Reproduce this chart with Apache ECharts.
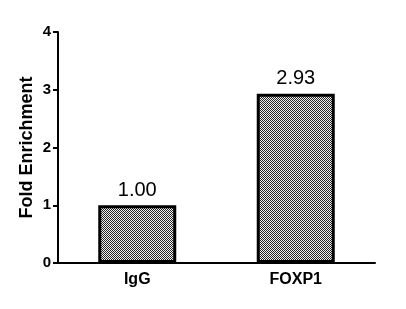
<!DOCTYPE html>
<html><head><meta charset="utf-8">
<script src="https://cdn.jsdelivr.net/npm/echarts@6/dist/echarts.min.js"></script>
<style>html,body{margin:0;padding:0;background:#fff}#c{width:406px;height:309px}</style>
</head><body><div id="c"></div>
<script>
const categories = ['IgG', 'FOXP1'];
const values = [1.00, 2.93];
const valueLabels = ['1.00', '2.93'];
const yTicks = [0, 1, 2, 3, 4];

const pc = document.createElement('canvas');
pc.width = 2; pc.height = 2;
const g = pc.getContext('2d');
g.fillStyle = '#f0f0f0'; g.fillRect(0, 0, 2, 2);
g.fillStyle = '#262626'; g.fillRect(0, 0, 1, 1); g.fillRect(1, 1, 1, 1);

const font = 'Arial, "Liberation Sans", sans-serif';
const chart = echarts.init(document.getElementById('c'));
chart.setOption({
  animation: false,
  backgroundColor: '#fff',
  grid: { left: 58, right: 31, top: 32, bottom: 46 },
  xAxis: {
    type: 'category', data: categories,
    axisLine: { lineStyle: { color: '#000', width: 2 } },
    axisTick: { alignWithLabel: true, length: 5, lineStyle: { color: '#000', width: 2 } },
    axisLabel: { color: '#000', fontWeight: 'bold', fontSize: 16, fontFamily: font, margin: 9 }
  },
  yAxis: {
    type: 'value', min: yTicks[0], max: yTicks[yTicks.length - 1], interval: 1,
    name: 'Fold Enrichment', nameLocation: 'middle', nameGap: 22, nameMoveOverlap: false,
    nameTextStyle: { color: '#000', fontWeight: 'bold', fontSize: 18, fontFamily: font },
    axisLine: { show: true, lineStyle: { color: '#000', width: 2 } },
    axisTick: { show: true, length: 5, lineStyle: { color: '#000', width: 2 } },
    axisLabel: { color: '#000', fontWeight: 'bold', fontSize: 15, fontFamily: font, margin: 7 },
    splitLine: { show: false }
  },
  series: [{
    type: 'bar', data: values, barWidth: 78,
    itemStyle: { color: { image: pc, repeat: 'repeat' }, borderColor: '#000', borderWidth: 3 },
    label: {
      show: true, position: 'top', distance: 5, color: '#000', fontSize: 20, fontFamily: font,
      formatter: p => valueLabels[p.dataIndex]
    }
  }]
});
</script></body></html>
